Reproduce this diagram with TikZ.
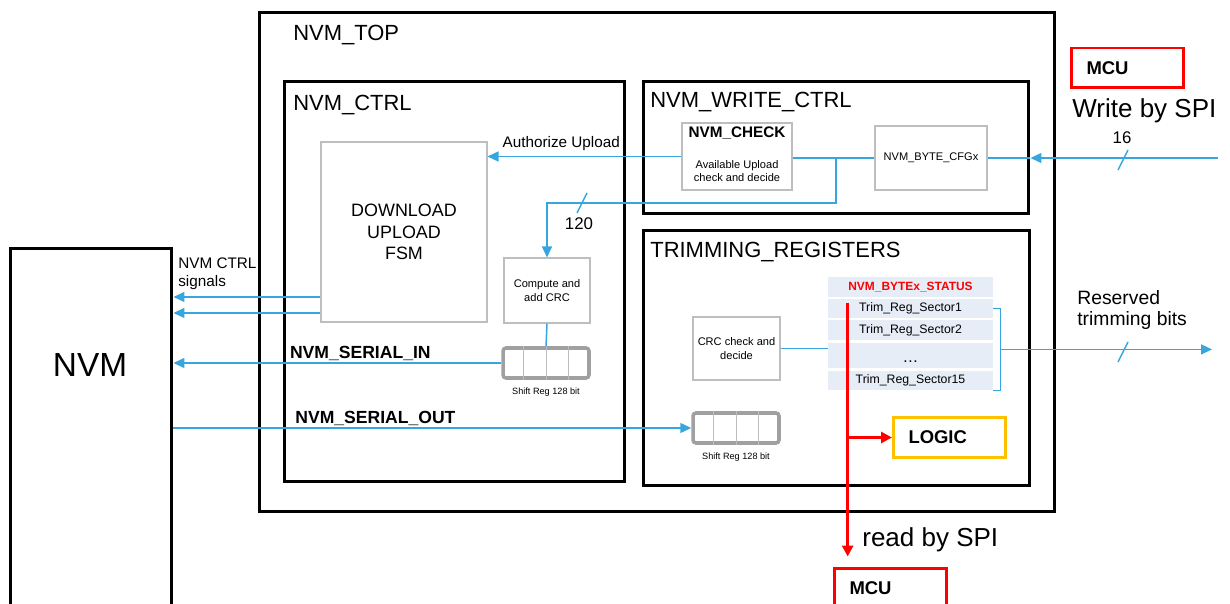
\documentclass[tikz,border=0pt]{standalone}
\usepackage{fontspec}
\setmainfont{Liberation Sans}
\usetikzlibrary{arrows.meta,positioning,calc}

\definecolor{wireblue}{RGB}{55,166,222}
\definecolor{regfill}{RGB}{230,237,247}
\definecolor{boxgray}{RGB}{190,190,190}
\definecolor{srgray}{RGB}{160,160,160}
\definecolor{logicorange}{RGB}{255,192,0}

\begin{document}
\begin{tikzpicture}[
  x=0.02cm, y=-0.02cm,
  font=\fontsize{8.7}{10.5}\selectfont,
  >={Triangle[length=2.2mm,width=2mm]},
  frame/.style={draw,line width=1.7pt,inner sep=0pt},
  title/.style={anchor=west,inner sep=0pt,font=\fontsize{12.5}{15}\selectfont},
  unit/.style={draw=boxgray,line width=0.6pt,fill=white,align=center,inner sep=1pt,
               font=\fontsize{6.3}{7.9}\selectfont},
  shiftreg/.style={draw=srgray,line width=2pt,rounded corners=0.6mm,fill=white,
                   minimum width=17.2mm,minimum height=6mm,inner sep=0pt},
  cell/.style={draw=srgray!70,line width=0.5pt},
  reg/.style={fill=regfill,minimum width=33mm,inner sep=0pt,font=\fontsize{7}{8}\selectfont},
  wire/.style={wireblue,line width=0.85pt},
  rd/.style={red,line width=1.7pt,-{Triangle[length=2.2mm,width=2.2mm]}},
  outbox/.style={draw=#1,line width=1.7pt,minimum height=8mm,inner xsep=3mm,
                 text width=16.4mm,align=left,font=\fontsize{10.5}{12}\selectfont\bfseries},
  sig/.style={font=\fontsize{10}{12}\selectfont\bfseries,text=black,above,inner sep=1pt},
  tiny/.style={font=\fontsize{5.2}{6}\selectfont,inner sep=0pt},
  buswidth/.style={font=\fontsize{9.6}{11}\selectfont,inner sep=0pt},
  big/.style={anchor=west,inner sep=0pt,font=\fontsize{14.8}{17}\selectfont},
  buscut/.pic={\draw[wire] (-5,10) -- (5,-10);},
]
\useasboundingbox (0,0) rectangle (1230,604);

% --- frames ---
\node[frame,minimum width=159.2mm,minimum height=100mm] (top) at (657,262) {};
\node[title] (toptitle) at (293,35) {NVM\_TOP};
\node[frame,minimum width=68.2mm,minimum height=80.2mm] (ctrl) at (454.5,281.5) {};
\node[title] (ctrltitle) at (293,105) {NVM\_CTRL};
\node[frame,minimum width=77.2mm,minimum height=26.6mm] (wctrl) at (836,147.5) {};
\node[title] (wctrltitle) at (650,102) {NVM\_WRITE\_CTRL};
\node[frame,minimum width=77.4mm,minimum height=51.2mm] (trim) at (836.5,358) {};
\node[title] (trimtitle) at (650,252) {TRIMMING\_REGISTERS};
\node[frame,minimum width=32.4mm,minimum height=74mm] (nvm) at (91,433) {};
\node[font=\fontsize{19}{22}\selectfont] (nvmtext) at (90,365) {NVM};

% --- NVM_CTRL ---
\node[unit,minimum width=33.2mm,minimum height=36mm,font=\fontsize{10.2}{12.2}\selectfont]
  (fsm) at (404,232) {DOWNLOAD\\UPLOAD\\FSM};
\node[unit,minimum width=17.2mm,minimum height=13mm] (crc) at (547,290.5) {Compute and\\add CRC};
\node[shiftreg] (sr1) at (546,363) {};
\node[tiny,below=1.6mm of sr1] (sr1text) {Shift Reg 128 bit};

% --- NVM_WRITE_CTRL ---
\node[unit,minimum width=22mm,minimum height=13.4mm] (chk) at (737,156.5) {};
\node[font=\fontsize{8.7}{10}\selectfont\bfseries,inner sep=0pt,below=0.8mm of chk.north] (chkname) {NVM\_CHECK};
\node[unit,draw=none,fill=none,inner sep=0pt] (chknote) at ([yshift=-2.9mm]chk.center) {Available Upload\\check and decide};
\node[unit,minimum width=22.4mm,minimum height=12.8mm] (cfg) at (931,158) {NVM\_BYTE\_CFGx};

% --- TRIMMING_REGISTERS ---
\node[unit,minimum width=17.4mm,minimum height=12.6mm] (crcchk) at (736.5,348.5) {CRC check and\\decide};
\node[reg,minimum height=4mm,text=red,font=\fontsize{6.8}{8}\selectfont\bfseries] (hdr) at (910.5,287) {NVM\_BYTEx\_STATUS};
\node[reg,minimum height=3.8mm] (r1) at (910.5,308.5) {Trim\_Reg\_Sector1};
\node[reg,minimum height=4mm] (r2) at (910.5,330) {Trim\_Reg\_Sector2};
\node[reg,minimum height=5mm,font=\fontsize{9}{10}\selectfont] (rdots) at (910.5,355.5) {\rule{0pt}{3mm}\dots};
\node[reg,minimum height=3.8mm] (r15) at (910.5,380.5) {Trim\_Reg\_Sector15};
\node[shiftreg] (sr2) at (736,428) {};
\node[tiny,below=1.6mm of sr2] (sr2text) {Shift Reg 128 bit};

\foreach \s in {sr1,sr2}
  \foreach \k in {1,2,3}
    \draw[cell] ($(\s.north west)!\k/4!(\s.north east)$) -- ($(\s.south west)!\k/4!(\s.south east)$);

% --- host side ---
\node[outbox=red] (mcuin) at (1127.5,68) {MCU};
\node[big] (spiwr) at (1072,111) {Write by SPI};
\node[outbox=logicorange] (logic) at (949.5,437.5) {LOGIC};
\node[outbox=red] (mcuout) at (890.5,588) {MCU};
\node[big] (spird) at (862,540) {read by SPI};

% --- write path ---
\coordinate (spiin) at (1218,158);
\draw[wire,->] (spiin) -- (spiin -| wctrl.east);
\draw[wire] (cfg.east -| wctrl.east) -- (cfg.east);
\pic at (1123,160) {buscut};
\node[buswidth] (w16) at (1122,138) {16};
\draw[wire] (cfg.west) -- (cfg.west -| chk.east);
\coordinate (tap) at (836,158);
\coordinate (tapdn) at (836,203);
\draw[wire,->] (tap) -- (tapdn) -| (crc.north);
\pic at (582,203) {buscut};
\node[buswidth] (w120) at (579,224) {120};
\draw[wire,->] (chk.west) -- (chk.west -| fsm.east)
  node[pos=0.62,above=1mm,inner sep=0pt,text=black] {Authorize Upload};

% --- NVM interface ---
\coordinate (ctl1) at ([yshift=-13mm]fsm.west);
\coordinate (ctl2) at ([yshift=-16.2mm]fsm.west);
\draw[wire,->] (ctl1) -- (ctl1 -| nvm.east);
\draw[wire,->] (ctl2) -- (ctl2 -| nvm.east);
\node[anchor=west,align=left,inner sep=0pt] (ctltext) at (178,274) {NVM CTRL\\signals};
\draw[wire] (crc.south) -- (sr1.north);
\draw[wire,->] (sr1.west) -- (sr1.west -| nvm.east) node[sig,pos=0.43] {NVM\_SERIAL\_IN};
\draw[wire,->] (sr2.west -| nvm.east) -- (sr2.west) node[sig,pos=0.39] {NVM\_SERIAL\_OUT};

% --- trimming outputs ---
\draw[wire] (crcchk.east) -- (crcchk.east -| rdots.west);
\draw[wire] (r1.east) -- ++(7,0) |- (r15.south east);
\coordinate (brace) at ($(r1.east)!0.5!(r15.south east)+(7,0)$);
\coordinate (resout) at (1212,351);
\draw[wire,->] (brace) -- (brace -| resout);
\pic at (1123,352) {buscut};
\node[anchor=west,align=left,inner sep=0pt,font=\fontsize{11}{12.5}\selectfont] (restext) at (1077,310) {Reserved\\trimming bits};

% --- read path ---
\coordinate (rdtop) at ([xshift=4mm,yshift=-0.8mm]r1.north west);
\draw[rd] (rdtop) -- ($(rdtop |- mcuout.north)+(0,-10)$);
\draw[rd] (rdtop |- logic.west) -- (logic.west);

\end{tikzpicture}
\end{document}
